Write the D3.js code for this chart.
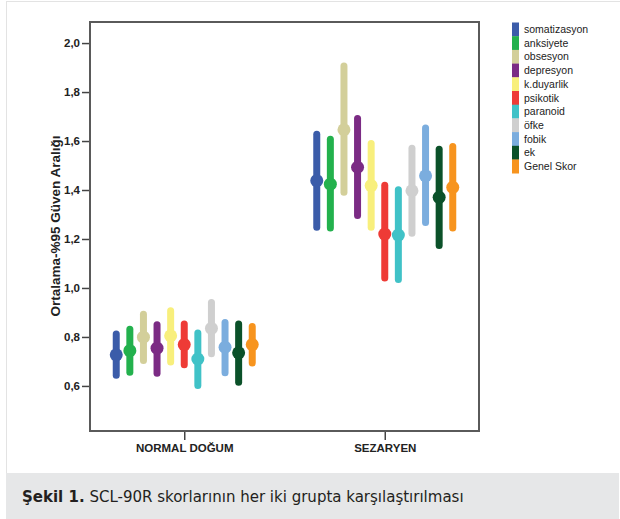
<!DOCTYPE html>
<html>
<head>
<meta charset="utf-8">
<script src="https://cdn.jsdelivr.net/npm/d3@7"></script>
<style>
  body { margin: 0; background: #fff; }
  svg { display: block; }
</style>
</head>
<body>
<div id="chart"></div>
<script>
// groups and series
const groups = ["NORMAL DOĞUM", "SEZARYEN"];
const series = ["somatizasyon", "anksiyete", "obsesyon", "depresyon", "k.duyarlik",
  "psikotik", "paranoid", "öfke", "fobik", "ek", "Genel Skor"];
const colors = ["#3b5ca9", "#23b14d", "#d3cf9a", "#7b2b84", "#f8ef7c",
  "#ee3b36", "#40c2c7", "#cfcfcf", "#7badde", "#0b5129", "#f7941e"];

// mean and 95% CI per group
const meanNormal = [0.727, 0.744, 0.799, 0.754, 0.805, 0.769, 0.710, 0.835, 0.758, 0.735, 0.769];
const lowNormal  = [0.629, 0.642, 0.690, 0.638, 0.683, 0.672, 0.588, 0.717, 0.640, 0.601, 0.679];
const highNormal = [0.826, 0.846, 0.907, 0.864, 0.921, 0.867, 0.830, 0.955, 0.873, 0.867, 0.857];
const meanSezaryen = [1.438, 1.424, 1.646, 1.493, 1.418, 1.220, 1.216, 1.397, 1.458, 1.370, 1.411];
const lowSezaryen  = [1.234, 1.231, 1.377, 1.282, 1.234, 1.026, 1.020, 1.209, 1.253, 1.159, 1.231];
const highSezaryen = [1.642, 1.622, 1.921, 1.706, 1.604, 1.434, 1.415, 1.585, 1.667, 1.581, 1.592];

const yTicks = [0.6, 0.8, 1.0, 1.2, 1.4, 1.6, 1.8, 2.0];
const yTitle = "Ortalama-%95 Güven Aralığı";
const captionBold = "Şekil 1.";
const captionText = " SCL-90R skorlarının her iki grupta karşılaştırılması";

const W = 620, H = 519;
const plot = { left: 90, top: 22, right: 479, bottom: 431 };

const svg = d3.select("#chart").append("svg")
  .attr("width", W).attr("height", H);

// outer frame + caption band
svg.append("rect")
  .attr("x", 6.5).attr("y", 1.5).attr("width", W).attr("height", H)
  .attr("fill", "none").attr("stroke", "#e3e3e3");
svg.append("rect")
  .attr("x", 6).attr("y", 473).attr("width", 613).attr("height", 46)
  .attr("fill", "#e6e7e8");

const cap = svg.append("text")
  .attr("x", 22).attr("y", 502)
  .attr("font-family", "'Liberation Sans Narrow', 'DejaVu Sans Condensed', 'Liberation Sans', sans-serif")
  .attr("font-size", 16.7).attr("fill", "#231f20");
cap.append("tspan").attr("font-weight", "bold").text(captionBold);
cap.append("tspan").text(captionText);

// scales
const y = d3.scaleLinear().domain([0.416, 2.086]).range([plot.bottom, plot.top]);
const x = d3.scalePoint().domain(groups).range([plot.left, plot.right]).padding(0.47);
const xs = d3.scalePoint().domain(series).range([-68, 68]);

// axes
const yAxis = svg.append("g")
  .attr("transform", `translate(${plot.left},0)`)
  .call(d3.axisLeft(y).tickValues(yTicks).tickSize(8).tickPadding(2)
    .tickFormat(d => d.toFixed(1).replace(".", ",")));
const xAxis = svg.append("g")
  .attr("transform", `translate(0,${plot.bottom})`)
  .call(d3.axisBottom(x).tickSize(9).tickPadding(4));

[yAxis, xAxis].forEach(g => {
  g.select(".domain").remove();
  g.selectAll(".tick line").attr("stroke", "#444").attr("stroke-width", 1.5);
  g.selectAll(".tick text")
    .attr("font-family", "'Liberation Sans', Arial, sans-serif")
    .attr("font-weight", "bold").attr("font-size", 11.5).attr("fill", "#222");
});

// plot frame
svg.append("rect")
  .attr("x", plot.left).attr("y", plot.top)
  .attr("width", plot.right - plot.left).attr("height", plot.bottom - plot.top)
  .attr("fill", "none").attr("stroke", "#5a5a5a").attr("stroke-width", 2);

svg.append("text")
  .attr("transform", `translate(60,226) rotate(-90)`)
  .attr("text-anchor", "middle")
  .attr("font-family", "'Liberation Sans', Arial, sans-serif")
  .attr("font-weight", "bold").attr("font-size", 13.5).attr("fill", "#222")
  .text(yTitle);

// error bars
const rows = [];
groups.forEach((g, gi) => {
  const m = gi === 0 ? meanNormal : meanSezaryen;
  const lo = gi === 0 ? lowNormal : lowSezaryen;
  const hi = gi === 0 ? highNormal : highSezaryen;
  series.forEach((s, i) => rows.push({ g, s, i, mean: m[i], lo: lo[i], hi: hi[i] }));
});

const bw = 7;
const bars = svg.append("g").selectAll("g").data(rows).join("g")
  .attr("transform", d => `translate(${x(d.g) + xs(d.s)},0)`);

bars.append("line")
  .attr("y1", d => y(d.lo) - bw / 2)
  .attr("y2", d => y(d.hi) + bw / 2)
  .attr("stroke", d => colors[d.i])
  .attr("stroke-width", bw)
  .attr("stroke-linecap", "round");

bars.append("circle")
  .attr("cy", d => y(d.mean))
  .attr("r", 6.5)
  .attr("fill", d => colors[d.i]);

// legend
const rowH = 13.7, legTop = 22.5;
const leg = svg.append("g");
leg.selectAll("rect").data(series).join("rect")
  .attr("x", 512).attr("y", (d, i) => legTop + i * rowH)
  .attr("width", 7).attr("height", rowH + 0.3)
  .attr("fill", (d, i) => colors[i]);
leg.selectAll("text").data(series).join("text")
  .attr("x", 524).attr("y", (d, i) => legTop + i * rowH + rowH / 2)
  .attr("dy", "0.35em")
  .attr("font-family", "'Liberation Sans', Arial, sans-serif")
  .attr("font-size", 10.5).attr("fill", "#222")
  .text(d => d);
</script>
</body>
</html>
